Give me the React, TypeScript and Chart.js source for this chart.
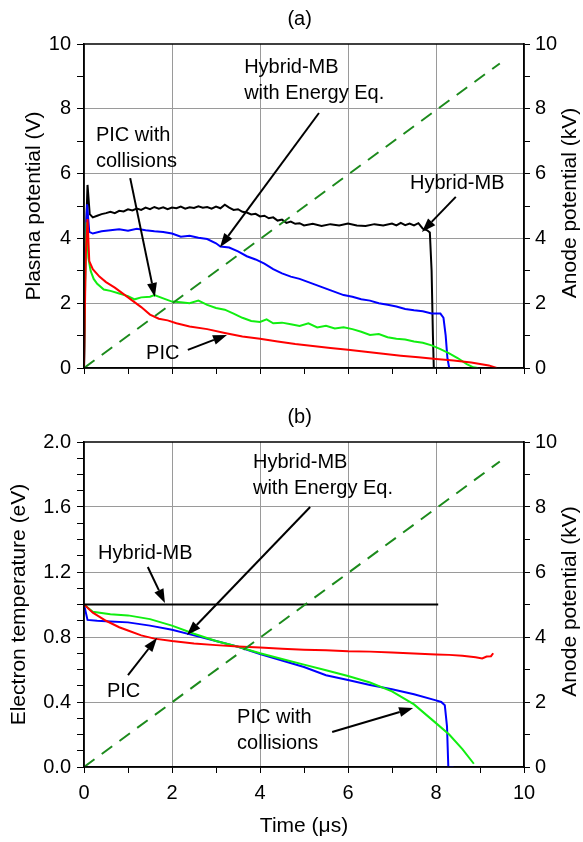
import React, { useEffect, useRef } from 'react';
import { Chart, registerables } from 'chart.js';
Chart.register(...registerables);

const FONT = '"Liberation Sans", Arial, Helvetica, sans-serif';

// ---------- Panel (a): plasma potential (V) ----------
const aBlackX = [0, 0.03, 0.08, 0.13, 0.2, 0.3, 0.4, 0.5, 0.6, 0.7, 0.8, 0.9, 1.0, 1.1, 1.2, 1.3, 1.4, 1.5, 1.6, 1.7, 1.8, 1.9, 2.0, 2.1, 2.2, 2.3, 2.4, 2.5, 2.6, 2.7, 2.8, 2.9, 3.0, 3.1, 3.2, 3.3, 3.4, 3.5, 3.6, 3.7, 3.8, 3.9, 4.0, 4.1, 4.2, 4.3, 4.4, 4.5, 4.6, 4.7, 4.8, 4.9, 5.0, 5.2, 5.4, 5.6, 5.8, 6.0, 6.2, 6.4, 6.6, 6.8, 7.0, 7.1, 7.2, 7.3, 7.4, 7.5, 7.6, 7.7, 7.8, 7.86, 7.9, 7.93, 7.95];
const aBlackY = [0, 3.5, 5.65, 4.75, 4.65, 4.7, 4.75, 4.78, 4.82, 4.78, 4.85, 4.83, 4.9, 4.86, 4.92, 4.88, 4.95, 4.9, 4.97, 4.92, 4.96, 4.9, 4.95, 4.93, 4.98, 4.92, 4.96, 4.94, 4.99, 4.95, 4.97, 4.92, 4.98, 4.93, 5.04, 4.95, 4.88, 4.9, 4.82, 4.8, 4.74, 4.76, 4.68, 4.7, 4.62, 4.65, 4.55, 4.58, 4.48, 4.52, 4.45, 4.47, 4.4, 4.45, 4.38, 4.44, 4.4, 4.46, 4.4, 4.38, 4.44, 4.4, 4.46, 4.4, 4.48, 4.41, 4.46, 4.4, 4.47, 4.3, 4.25, 4.18, 3.0, 1.0, 0];

const aBlueX = [0, 0.03, 0.07, 0.12, 0.2, 0.4, 0.6, 0.8, 1.0, 1.2, 1.4, 1.6, 1.8, 2.0, 2.2, 2.4, 2.6, 2.8, 3.0, 3.1, 3.3, 3.5, 3.7, 3.9, 4.1, 4.3, 4.5, 4.7, 4.9, 5.1, 5.3, 5.5, 5.7, 5.9, 6.1, 6.3, 6.5, 6.7, 6.9, 7.1, 7.3, 7.5, 7.7, 7.9, 8.1, 8.17, 8.22, 8.26, 8.3, 8.4];
const aBlueY = [0, 3.5, 5.05, 4.2, 4.15, 4.22, 4.25, 4.28, 4.24, 4.3, 4.25, 4.22, 4.2, 4.15, 4.05, 4.08, 4.02, 3.98, 3.85, 3.75, 3.72, 3.6, 3.45, 3.35, 3.22, 3.05, 2.92, 2.82, 2.75, 2.65, 2.55, 2.45, 2.35, 2.25, 2.2, 2.12, 2.08, 2.0, 1.95, 1.9, 1.82, 1.78, 1.75, 1.68, 1.68, 1.55, 1.0, 0.3, 0, 0];

const aGreenX = [0, 0.03, 0.06, 0.1, 0.15, 0.22, 0.3, 0.45, 0.6, 0.8, 1.0, 1.15, 1.3, 1.5, 1.6, 1.8, 2.0, 2.2, 2.4, 2.6, 2.8, 3.0, 3.2, 3.4, 3.6, 3.8, 4.0, 4.15, 4.3, 4.5, 4.7, 4.9, 5.1, 5.3, 5.5, 5.7, 5.9, 6.1, 6.3, 6.5, 6.7, 6.9, 7.1, 7.3, 7.5, 7.7, 7.9, 8.1, 8.3, 8.5, 8.7, 8.85, 8.95];
const aGreenY = [0, 3.0, 4.5, 3.4, 3.0, 2.75, 2.6, 2.42, 2.38, 2.3, 2.22, 2.12, 2.18, 2.2, 2.25, 2.15, 2.05, 2.03, 2.0, 2.08, 1.95, 1.85, 1.8, 1.68, 1.55, 1.45, 1.42, 1.5, 1.38, 1.4, 1.35, 1.3, 1.38, 1.25, 1.3, 1.22, 1.26, 1.2, 1.12, 1.02, 1.05, 0.95, 0.9, 0.88, 0.82, 0.78, 0.7, 0.58, 0.45, 0.3, 0.12, 0.02, 0];

const aRedX = [0, 0.04, 0.08, 0.12, 0.2, 0.35, 0.5, 0.7, 0.9, 1.1, 1.3, 1.5, 1.7, 1.9, 2.1, 2.4, 2.8, 3.2, 3.6, 4.0, 4.4, 4.8, 5.2, 5.6, 6.0, 6.4, 6.8, 7.2, 7.6, 8.0, 8.4, 8.8, 9.2, 9.38];
const aRedY = [0, 3.5, 4.6, 3.3, 3.05, 2.82, 2.65, 2.48, 2.28, 2.08, 1.88, 1.65, 1.52, 1.47, 1.38, 1.28, 1.2, 1.08, 0.97, 0.9, 0.82, 0.74, 0.68, 0.62, 0.56, 0.5, 0.44, 0.38, 0.33, 0.28, 0.23, 0.17, 0.08, 0];

// ---------- Panel (b): electron temperature (eV) ----------
const bBlackX = [0, 8.05];
const bBlackY = [1.0, 1.0];

const bBlueX = [0, 0.08, 0.3, 0.6, 1.0, 1.5, 2.0, 2.5, 3.0, 3.5, 4.0, 4.5, 5.0, 5.5, 6.0, 6.5, 7.0, 7.5, 8.0, 8.12, 8.2, 8.25, 8.28, 8.4];
const bBlueY = [1.0, 0.905, 0.9, 0.895, 0.89, 0.87, 0.845, 0.81, 0.775, 0.74, 0.695, 0.655, 0.615, 0.565, 0.535, 0.505, 0.478, 0.448, 0.41, 0.4, 0.38, 0.25, 0.0, 0.0];

const bGreenX = [0, 0.2, 0.6, 1.0, 1.5, 2.0, 2.5, 3.0, 3.5, 4.0, 4.5, 5.0, 5.5, 6.0, 6.5, 7.0, 7.5, 8.0, 8.3, 8.6, 8.86];
const bGreenY = [1.0, 0.955, 0.94, 0.933, 0.91, 0.87, 0.82, 0.775, 0.74, 0.7, 0.665, 0.63, 0.595, 0.56, 0.52, 0.465, 0.385, 0.27, 0.2, 0.11, 0.02];

const bRedX = [0, 0.2, 0.5, 0.8, 1.0, 1.3, 1.6, 2.0, 2.5, 3.0, 3.5, 4.0, 4.5, 5.0, 5.5, 6.0, 6.5, 7.0, 7.5, 8.0, 8.3, 8.6, 8.9, 9.05, 9.15, 9.25, 9.3];
const bRedY = [1.0, 0.95, 0.9, 0.86, 0.84, 0.81, 0.79, 0.775, 0.76, 0.75, 0.742, 0.735, 0.728, 0.722, 0.718, 0.712, 0.71, 0.705, 0.698, 0.692, 0.69, 0.685, 0.675, 0.668, 0.68, 0.682, 0.7];

// ---------- Anode potential (kV), both panels ----------
const anodeX = [0, 9.45];
const anodeY = [0, 9.4];

// ---------- Ticks ----------
const xTicks = [0, 1, 2, 3, 4, 5, 6, 7, 8, 9, 10];
const kvTicks = [0, 1, 2, 3, 4, 5, 6, 7, 8, 9, 10];
const aTicks = [0, 1, 2, 3, 4, 5, 6, 7, 8, 9, 10];
const bTicks = [0, 0.1, 0.2, 0.3, 0.4, 0.5, 0.6, 0.7, 0.8, 0.9, 1.0, 1.1, 1.2, 1.3, 1.4, 1.5, 1.6, 1.7, 1.8, 1.9, 2.0];

// ---------- Annotations (data coordinates on the left axis) ----------
type Txt = { lines: string[]; x: number; y: number };
type Arr = { x1: number; y1: number; x2: number; y2: number };

const aTexts: Txt[] = [
  { lines: ['Hybrid-MB', 'with Energy Eq.'], x: 3.64, y: 9.26 },
  { lines: ['PIC with', 'collisions'], x: 0.27, y: 7.19 },
  { lines: ['PIC'], x: 1.41, y: 0.46 },
  { lines: ['Hybrid-MB'], x: 7.41, y: 5.68 },
];
const aArrows: Arr[] = [
  { x1: 5.34, y1: 7.87, x2: 3.09, y2: 3.73 },
  { x1: 1.05, y1: 5.86, x2: 1.61, y2: 2.19 },
  { x1: 2.36, y1: 0.56, x2: 3.25, y2: 1.02 },
  { x1: 8.45, y1: 5.28, x2: 7.68, y2: 4.2 },
];
const bTexts: Txt[] = [
  { lines: ['Hybrid-MB', 'with Energy Eq.'], x: 3.84, y: 1.871 },
  { lines: ['Hybrid-MB'], x: 0.32, y: 1.317 },
  { lines: ['PIC'], x: 0.52, y: 0.462 },
  { lines: ['PIC with', 'collisions'], x: 3.48, y: 0.302 },
];
const bArrows: Arr[] = [
  { x1: 5.14, y1: 1.6, x2: 2.34, y2: 0.812 },
  { x1: 1.45, y1: 1.231, x2: 1.84, y2: 1.009 },
  { x1: 1.0, y1: 0.566, x2: 1.66, y2: 0.794 },
  { x1: 5.64, y1: 0.215, x2: 7.48, y2: 0.363 },
];

const zip = (xs: number[], ys: number[]) => xs.map((x, i) => ({ x, y: ys[i] }));

function overlay(title: string, rightTitle: string, texts: Txt[], arrows: Arr[]) {
  return {
    id: 'overlay' + title.replace(/[()]/g, ''),
    afterDraw(chart: any) {
      const { ctx, chartArea, scales } = chart;
      const sx = scales.x, sy = scales.y;
      ctx.save();
      // frame
      ctx.strokeStyle = '#000';
      ctx.lineWidth = 1.5;
      ctx.strokeRect(chartArea.left, chartArea.top, chartArea.right - chartArea.left, chartArea.bottom - chartArea.top);
      ctx.fillStyle = '#000';
      ctx.textBaseline = 'middle';
      // panel title
      ctx.font = `20px ${FONT}`;
      ctx.textAlign = 'center';
      ctx.fillText(title, sx.getPixelForValue(4.9), chartArea.top - 25);
      // right axis title (reads bottom to top)
      ctx.save();
      ctx.translate(570, (chartArea.top + chartArea.bottom) / 2 - 3);
      ctx.rotate(-Math.PI / 2);
      ctx.font = `21px ${FONT}`;
      ctx.fillText(rightTitle, 0, 0);
      ctx.restore();
      // texts
      ctx.textAlign = 'left';
      ctx.font = `20px ${FONT}`;
      texts.forEach((t) => {
        const px = sx.getPixelForValue(t.x);
        const py = sy.getPixelForValue(t.y);
        t.lines.forEach((ln, i) => ctx.fillText(ln, px, py + i * 26));
      });
      // arrows
      arrows.forEach((a) => {
        const x1 = sx.getPixelForValue(a.x1), y1 = sy.getPixelForValue(a.y1);
        const x2 = sx.getPixelForValue(a.x2), y2 = sy.getPixelForValue(a.y2);
        const ang = Math.atan2(y2 - y1, x2 - x1);
        const L = 14, W = 5;
        const bx = x2 - L * Math.cos(ang), by = y2 - L * Math.sin(ang);
        ctx.strokeStyle = '#000';
        ctx.lineWidth = 2;
        ctx.beginPath();
        ctx.moveTo(x1, y1);
        ctx.lineTo(bx, by);
        ctx.stroke();
        ctx.beginPath();
        ctx.moveTo(x2, y2);
        ctx.lineTo(bx + W * Math.sin(ang), by - W * Math.cos(ang));
        ctx.lineTo(bx - W * Math.sin(ang), by + W * Math.cos(ang));
        ctx.closePath();
        ctx.fill();
      });
      ctx.restore();
    },
  };
}

function line(data: any[], color: string, axis = 'y', dash: number[] = []) {
  return {
    data,
    borderColor: color,
    backgroundColor: color,
    borderWidth: 2,
    borderDash: dash,
    pointRadius: 0,
    tension: 0,
    fill: false,
    yAxisID: axis,
  };
}

const tickFont = { size: 20, family: FONT };
const titleFont = { size: 21, family: FONT };

function isEven(v: number) {
  return Math.round(v) % 2 === 0;
}

function buildConfig(panel: 'a' | 'b') {
  const isA = panel === 'a';
  const datasets = isA
    ? [
        line(zip(anodeX, anodeY), '#1c8a1c', 'y2', [13, 9]),
        line(zip(aRedX, aRedY), '#ff0000'),
        line(zip(aGreenX, aGreenY), '#11ee11'),
        line(zip(aBlueX, aBlueY), '#0000ff'),
        line(zip(aBlackX, aBlackY), '#000000'),
      ]
    : [
        line(zip(anodeX, anodeY), '#1c8a1c', 'y2', [13, 9]),
        line(zip(bBlackX, bBlackY), '#000000'),
        line(zip(bRedX, bRedY), '#ff0000'),
        line(zip(bGreenX, bGreenY), '#11ee11'),
        line(zip(bBlueX, bBlueY), '#0000ff'),
      ];
  const leftTicks = isA ? aTicks : bTicks;
  const leftMajor = (v: number) => (isA ? isEven(v) : Math.round(v * 10) % 4 === 0);
  return {
    type: 'line',
    data: { datasets },
    plugins: [overlay(isA ? '(a)' : '(b)', 'Anode potential (kV)', isA ? aTexts : bTexts, isA ? aArrows : bArrows)],
    options: {
      animation: false,
      responsive: false,
      maintainAspectRatio: false,
      layout: { padding: { top: isA ? 44 : 42, left: 0, right: 0, bottom: 0 } },
      plugins: { legend: { display: false }, tooltip: { enabled: false }, title: { display: false } },
      scales: {
        x: {
          type: 'linear',
          min: 0,
          max: 10,
          afterBuildTicks: (s: any) => {
            s.ticks = xTicks.map((v) => ({ value: v }));
          },
          afterFit: (s: any) => {
            s.height = isA ? 32 : 75;
          },
          ticks: {
            autoSkip: false,
            maxRotation: 0,
            color: '#000',
            font: tickFont,
            padding: 8,
            callback: (v: number) => (!isA && isEven(v) ? String(v) : ''),
          },
          grid: {
            color: (c: any) => {
              const v = c.tick ? c.tick.value : 0;
              return isEven(v) && v > 0 && v < 10 ? '#9a9a9a' : 'rgba(0,0,0,0)';
            },
            tickColor: '#000',
            tickLength: 6,
            lineWidth: 1,
          },
          border: { color: '#000', width: 1.5 },
          title: {
            display: !isA,
            text: 'Time (\u03bcs)',
            color: '#000',
            font: titleFont,
            padding: { top: 0, bottom: 3 },
          },
        },
        y: {
          type: 'linear',
          position: 'left',
          min: 0,
          max: isA ? 10 : 2,
          afterBuildTicks: (s: any) => {
            s.ticks = leftTicks.map((v) => ({ value: v }));
          },
          afterFit: (s: any) => {
            s.width = 84;
          },
          ticks: {
            autoSkip: false,
            color: '#000',
            font: tickFont,
            padding: 6,
            callback: (v: number) => (leftMajor(v) ? (isA ? String(Math.round(v)) : v.toFixed(1)) : ''),
          },
          grid: {
            color: (c: any) => {
              const v = c.tick ? c.tick.value : 0;
              const top = isA ? 10 : 2;
              return leftMajor(v) && v > 0.01 && v < top - 0.01 ? '#9a9a9a' : 'rgba(0,0,0,0)';
            },
            tickColor: '#000',
            tickLength: 7,
            lineWidth: 1,
          },
          border: { color: '#000', width: 1.5 },
          title: {
            display: true,
            text: isA ? 'Plasma potential (V)' : 'Electron temperature (eV)',
            color: '#000',
            font: titleFont,
            padding: { top: isA ? 22 : 7, bottom: 0 },
          },
        },
        y2: {
          type: 'linear',
          position: 'right',
          min: 0,
          max: 10,
          afterBuildTicks: (s: any) => {
            s.ticks = kvTicks.map((v) => ({ value: v }));
          },
          afterFit: (s: any) => {
            s.width = 59;
          },
          ticks: {
            autoSkip: false,
            color: '#000',
            font: tickFont,
            padding: 5,
            callback: (v: number) => (isEven(v) ? String(Math.round(v)) : ''),
          },
          grid: {
            drawOnChartArea: false,
            tickColor: '#000',
            tickLength: 6,
            lineWidth: 1,
          },
          border: { color: '#000', width: 1.5 },
          title: { display: false },
        },
      },
    },
  };
}

function Panel({ panel, height }: { panel: 'a' | 'b'; height: number }) {
  const ref = useRef<HTMLCanvasElement | null>(null);
  useEffect(() => {
    if (!ref.current) return;
    const chart = new Chart(ref.current, buildConfig(panel) as any);
    return () => chart.destroy();
  }, [panel]);
  return <canvas ref={ref} width={583} height={height} style={{ display: 'block', width: 583, height }} />;
}

export default function App() {
  return (
    <div style={{ position: 'absolute', left: 0, top: 0, width: 583, height: 842, background: '#fff' }}>
      <Panel panel="a" height={400} />
      <Panel panel="b" height={442} />
    </div>
  );
}
